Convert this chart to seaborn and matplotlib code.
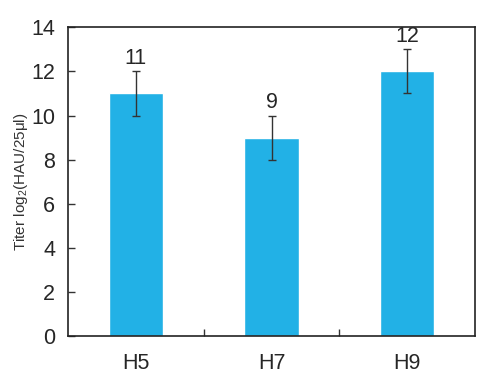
import matplotlib
matplotlib.use('Agg')
import matplotlib.pyplot as plt
import seaborn as sns
import pandas as pd

# Data
strains = ['H5', 'H7', 'H9']
titers = [11, 9, 12]
errors = [1, 1, 1]

df = pd.DataFrame({'Strain': strains, 'Titer': titers, 'Err': errors})

sns.set_style('white')
plt.rcParams['font.family'] = ['Liberation Sans', 'DejaVu Sans']
plt.rcParams['mathtext.fontset'] = 'custom'
plt.rcParams['mathtext.rm'] = 'Liberation Sans'
plt.rcParams['mathtext.it'] = 'Liberation Sans:italic'

fig, ax = plt.subplots(figsize=(4.95, 3.9), dpi=100)
fig.subplots_adjust(left=0.137, right=0.96, top=0.93, bottom=0.138)

sns.barplot(data=df, x='Strain', y='Titer', color='#22B1E6',
            width=0.4, saturation=1, ax=ax, errorbar=None)

ax.errorbar(range(len(strains)), df['Titer'], yerr=df['Err'], fmt='none',
            ecolor='#333333', elinewidth=1, capsize=2.6, capthick=1)

# Value labels above the error bars
for i, row in df.iterrows():
    ax.text(i, row['Titer'] + row['Err'] + 0.1, f"{row['Titer']}",
            ha='center', va='bottom', fontsize=15.5)

ax.set_xlim(-0.5, 2.5)
ax.set_ylim(0, 14)
ax.set_yticks(range(0, 15, 2))
ax.set_xticks([0.5, 1.5], minor=True)
ax.tick_params(axis='x', which='major', length=0, labelsize=15.5, pad=12)
ax.tick_params(axis='x', which='minor', direction='in', length=5,
               width=1, color='#333333', bottom=True)
ax.tick_params(axis='y', direction='in', length=5, width=1,
               color='#333333', labelsize=15.5, left=True, pad=9)

ax.set_xlabel('')
ax.set_ylabel(r'Titer log$_2$(HAU/25μl)', fontsize=11, color='#333333',
              labelpad=1)

for s in ax.spines.values():
    s.set_visible(True)
    s.set_color('#222222')
    s.set_linewidth(1.2)

plt.savefig('out.png', dpi=100)
